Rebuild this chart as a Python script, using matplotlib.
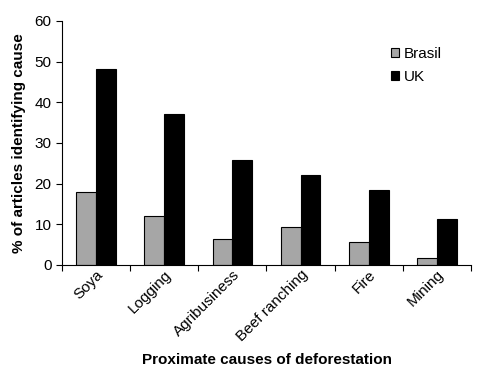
import numpy as np
import matplotlib.pyplot as plt

plt.rcParams['font.family'] = ['Liberation Sans', 'DejaVu Sans']

# Data
causes = ["Soya", "Logging", "Agribusiness", "Beef ranching", "Fire", "Mining"]
brasil = [17.8, 11.9, 6.3, 9.4, 5.6, 1.8]
uk = [48.2, 37.0, 25.8, 22.2, 18.4, 11.2]

fig = plt.figure(figsize=(5, 3.8), dpi=100)
ax = fig.add_axes([0.124, 0.303, 0.818, 0.642])

x = np.arange(len(causes))
w = 0.29
ax.bar(x - w / 2, brasil, w, color="#a6a6a6", edgecolor="black", linewidth=0.8, label="Brasil")
ax.bar(x + w / 2, uk, w, color="black", edgecolor="black", linewidth=0.8, label="UK")

ax.set_xlim(-0.5, len(causes) - 0.5)
ax.set_ylim(0, 60)
ax.set_yticks(np.arange(0, 61, 10))

# tick marks between categories, labels at centres
ax.set_xticks(np.arange(-0.5, len(causes)), labels=[""] * (len(causes) + 1))
ax.set_xticks(x, minor=True)
ax.set_xticklabels(causes, minor=True, rotation=45, ha="right", rotation_mode="anchor", fontsize=11)
ax.tick_params(axis="x", which="minor", length=0, pad=2)
ax.tick_params(axis="x", which="major", length=4, width=0.8)
ax.tick_params(axis="y", length=4, width=0.8, labelsize=11)

for s in ["top", "right"]:
    ax.spines[s].set_visible(False)
ax.spines["left"].set_linewidth(0.8)
ax.spines["bottom"].set_linewidth(0.8)

ax.set_ylabel("% of articles identifying cause", fontsize=11, fontweight="bold", labelpad=6)
ax.set_xlabel("Proximate causes of deforestation", fontsize=11, fontweight="bold", labelpad=6)

ax.legend(frameon=False, loc="upper left", bbox_to_anchor=(0.77, 0.95), fontsize=11,
          handlelength=0.55, handleheight=0.55, handletextpad=0.3, labelspacing=0.6)

fig.savefig("out.png", dpi=100)
